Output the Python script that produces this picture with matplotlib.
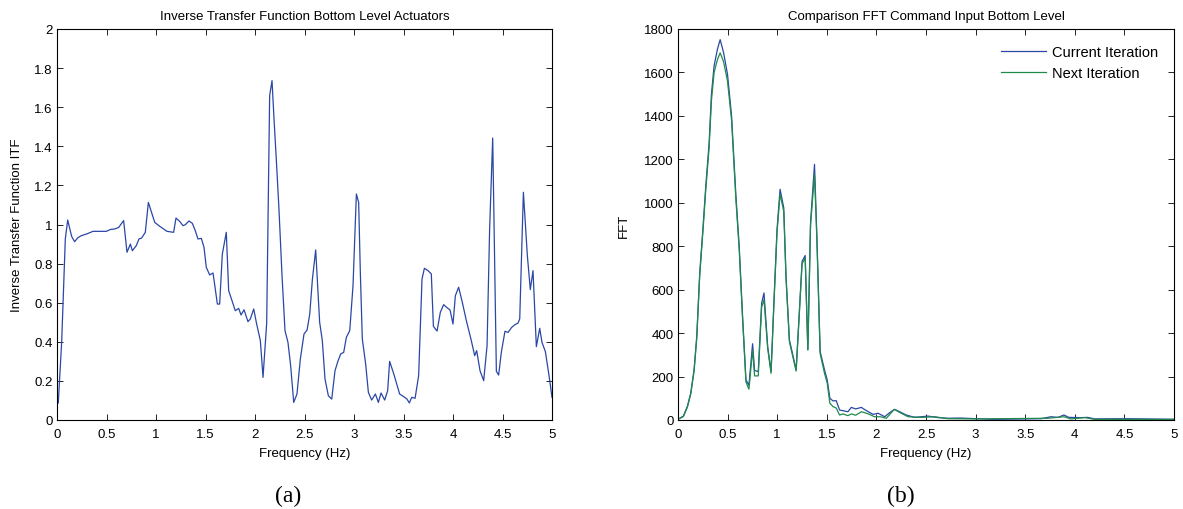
import numpy as np
import matplotlib
matplotlib.use("Agg")
import matplotlib.pyplot as plt

plt.rcParams["font.family"] = ["Liberation Sans", "DejaVu Sans"]

# --- (a) inverse transfer function ---
itf_freq = [0.013, 0.047, 0.084, 0.108, 0.148, 0.178, 0.212, 0.246, 0.296, 0.364,
            0.498, 0.542, 0.582, 0.623, 0.673, 0.707, 0.741, 0.761, 0.801, 0.828,
            0.855, 0.892, 0.923, 0.960, 0.987, 1.037, 1.111, 1.178, 1.202, 1.239,
            1.273, 1.296, 1.333, 1.367, 1.397, 1.424, 1.458, 1.485, 1.508, 1.542,
            1.576, 1.620, 1.643, 1.670, 1.710, 1.734, 1.768, 1.801, 1.835, 1.859,
            1.889, 1.929, 1.953, 1.987, 2.013, 2.054, 2.081, 2.118, 2.148, 2.172,
            2.192, 2.215, 2.242, 2.273, 2.303, 2.333, 2.360, 2.391, 2.424, 2.458,
            2.495, 2.526, 2.553, 2.580, 2.613, 2.627, 2.653, 2.680, 2.707, 2.741,
            2.775, 2.808, 2.839, 2.866, 2.896, 2.923, 2.957, 2.990, 3.024, 3.047,
            3.064, 3.084, 3.118, 3.145, 3.178, 3.216, 3.246, 3.273, 3.310, 3.340,
            3.360, 3.404, 3.461, 3.512, 3.535, 3.559, 3.583, 3.617, 3.653, 3.687,
            3.711, 3.748, 3.781, 3.802, 3.839, 3.872, 3.906, 3.936, 3.970, 4.000,
            4.024, 4.057, 4.094, 4.135, 4.185, 4.219, 4.239, 4.273, 4.310, 4.344,
            4.370, 4.401, 4.438, 4.461, 4.488, 4.525, 4.556, 4.593, 4.627, 4.657,
            4.674, 4.711, 4.751, 4.781, 4.808, 4.842, 4.876, 4.899, 4.933, 4.970,
            5.000]
itf_val = [0.087, 0.397, 0.926, 1.023, 0.939, 0.912, 0.933, 0.943, 0.951, 0.965,
           0.965, 0.975, 0.977, 0.985, 1.020, 0.858, 0.900, 0.866, 0.892, 0.926,
           0.931, 0.960, 1.113, 1.054, 1.011, 0.991, 0.965, 0.960, 1.033, 1.016,
           0.994, 0.999, 1.018, 1.006, 0.968, 0.926, 0.929, 0.883, 0.781, 0.742,
           0.752, 0.593, 0.593, 0.849, 0.960, 0.662, 0.610, 0.559, 0.571, 0.537,
           0.564, 0.503, 0.517, 0.568, 0.500, 0.406, 0.218, 0.496, 1.659, 1.736,
           1.540, 1.335, 1.079, 0.738, 0.457, 0.397, 0.278, 0.090, 0.133, 0.312,
           0.440, 0.460, 0.542, 0.721, 0.870, 0.738, 0.500, 0.406, 0.210, 0.124,
           0.107, 0.252, 0.303, 0.338, 0.346, 0.423, 0.457, 0.687, 1.156, 1.113,
           0.755, 0.414, 0.286, 0.142, 0.102, 0.133, 0.090, 0.138, 0.102, 0.150,
           0.300, 0.232, 0.133, 0.116, 0.107, 0.087, 0.116, 0.111, 0.227, 0.721,
           0.776, 0.764, 0.747, 0.479, 0.455, 0.551, 0.590, 0.576, 0.563, 0.491,
           0.636, 0.679, 0.602, 0.508, 0.406, 0.329, 0.355, 0.252, 0.201, 0.380,
           0.977, 1.442, 0.249, 0.230, 0.346, 0.454, 0.448, 0.474, 0.488, 0.496,
           0.517, 1.165, 0.841, 0.667, 0.764, 0.375, 0.469, 0.397, 0.350, 0.227,
           0.116]

# --- (b) FFT of command input ---
cur_freq = [0.0, 0.054, 0.094, 0.128, 0.162, 0.189, 0.219, 0.253, 0.280, 0.314,
            0.337, 0.364, 0.398, 0.425, 0.459, 0.499, 0.540, 0.583, 0.617, 0.651,
            0.685, 0.715, 0.752, 0.772, 0.809, 0.843, 0.867, 0.904, 0.938, 0.965,
            0.998, 1.029, 1.066, 1.089, 1.123, 1.191, 1.251, 1.282, 1.309, 1.336,
            1.376, 1.400, 1.433, 1.477, 1.504, 1.531, 1.562, 1.595, 1.629, 1.663,
            1.713, 1.747, 1.791, 1.848, 1.899, 1.966, 2.017, 2.084, 2.134, 2.184,
            2.235, 2.300, 2.386, 2.520, 2.620, 2.720, 2.850, 3.000, 3.190, 3.660,
            3.760, 3.830, 3.890, 3.940, 4.060, 4.130, 4.200, 4.530, 5.000]
cur_fft = [3, 18, 62, 123, 231, 385, 677, 892, 1077, 1277,
           1500, 1631, 1708, 1751, 1692, 1592, 1400, 1038, 800, 477,
           185, 160, 351, 228, 223, 538, 585, 338, 223, 523,
           877, 1062, 977, 662, 369, 231, 731, 757, 323, 908,
           1177, 846, 315, 231, 185, 100, 88, 89, 46, 43,
           38, 58, 51, 58, 43, 26, 31, 15, 34, 49,
           38, 23, 12, 18, 11, 8, 9, 6, 3, 6,
           15, 12, 23, 12, 11, 12, 5, 6, 3]

next_freq = [0.0, 0.054, 0.094, 0.128, 0.162, 0.189, 0.219, 0.253, 0.280, 0.314,
             0.337, 0.364, 0.398, 0.425, 0.459, 0.499, 0.540, 0.583, 0.617, 0.651,
             0.685, 0.715, 0.752, 0.772, 0.809, 0.843, 0.867, 0.904, 0.938, 0.965,
             0.998, 1.029, 1.066, 1.089, 1.123, 1.191, 1.251, 1.282, 1.309, 1.336,
             1.376, 1.400, 1.433, 1.477, 1.504, 1.531, 1.562, 1.595, 1.629, 1.663,
             1.713, 1.747, 1.791, 1.850, 1.920, 1.980, 2.040, 2.100, 2.180, 2.250,
             2.320, 2.450, 2.590, 2.720, 3.000, 3.730, 3.890, 3.960, 4.100, 4.200,
             5.000]
next_fft = [3, 16, 58, 118, 225, 375, 665, 880, 1060, 1255,
            1470, 1600, 1660, 1690, 1650, 1560, 1380, 1020, 785, 465,
            175, 142, 323, 203, 203, 520, 554, 330, 215, 510,
            860, 1040, 960, 650, 360, 225, 720, 745, 323, 895,
            1131, 830, 305, 215, 170, 77, 62, 55, 23, 28,
            20, 28, 22, 38, 28, 15, 15, 8, 49, 31,
            15, 12, 15, 6, 5, 8, 15, 5, 11, 3,
            3]

blue = "#2a47a6"
green = "#1f8a4c"
fs = 9.5
xticks = np.arange(0, 5.01, 0.5)
xticklabels = ["0", "0.5", "1", "1.5", "2", "2.5", "3", "3.5", "4", "4.5", "5"]

fig = plt.figure(figsize=(11.83, 5.10), dpi=100)
W, H = 1183.0, 510.0
ax1 = fig.add_axes([57 / W, 1 - 421 / H, 495 / W, 391 / H])
ax2 = fig.add_axes([678 / W, 1 - 421 / H, 496 / W, 391 / H])

ax1.plot(itf_freq, itf_val, color=blue, lw=0.9)
ax1.set_xlim(0, 5)
ax1.set_ylim(0, 2)
ax1.set_xticks(xticks)
ax1.set_xticklabels(xticklabels)
ax1.set_yticks(np.arange(0, 2.01, 0.2))
ax1.set_yticklabels(["0", "0.2", "0.4", "0.6", "0.8", "1", "1.2", "1.4", "1.6", "1.8", "2"])
ax1.set_title("Inverse Transfer Function Bottom Level Actuators", fontsize=fs, pad=7)
ax1.set_xlabel("Frequency (Hz)", fontsize=fs, labelpad=5)
ax1.set_ylabel("Inverse Transfer Function ITF", fontsize=fs, labelpad=8)

ax2.plot(cur_freq, cur_fft, color=blue, lw=0.9, label="Current Iteration")
ax2.plot(next_freq, next_fft, color=green, lw=0.9, label="Next Iteration")
ax2.set_xlim(0, 5)
ax2.set_ylim(0, 1800)
ax2.set_xticks(xticks)
ax2.set_xticklabels(xticklabels)
ax2.set_yticks(np.arange(0, 1801, 200))
ax2.set_title("Comparison FFT Command Input Bottom Level", fontsize=fs, pad=7)
ax2.set_xlabel("Frequency (Hz)", fontsize=fs, labelpad=5)
ax2.set_ylabel("FFT", fontsize=fs, labelpad=10)
ax2.legend(loc="upper right", frameon=False, fontsize=10.5, handlelength=3.1,
           handletextpad=0.4, labelspacing=0.5, borderaxespad=0.7)

for ax in (ax1, ax2):
    ax.tick_params(direction="in", top=True, right=True, labelsize=fs,
                   length=4, width=0.6)
    ax.tick_params(axis="x", pad=6)
    ax.tick_params(axis="y", pad=3)
    for s in ax.spines.values():
        s.set_linewidth(0.8)

fig.text(288 / W, 1 - 496 / H, "(a)", family="Liberation Serif", fontsize=17,
         ha="center", va="center")
fig.text(901 / W, 1 - 496 / H, "(b)", family="Liberation Serif", fontsize=17,
         ha="center", va="center")

fig.savefig("out.png", dpi=100)
